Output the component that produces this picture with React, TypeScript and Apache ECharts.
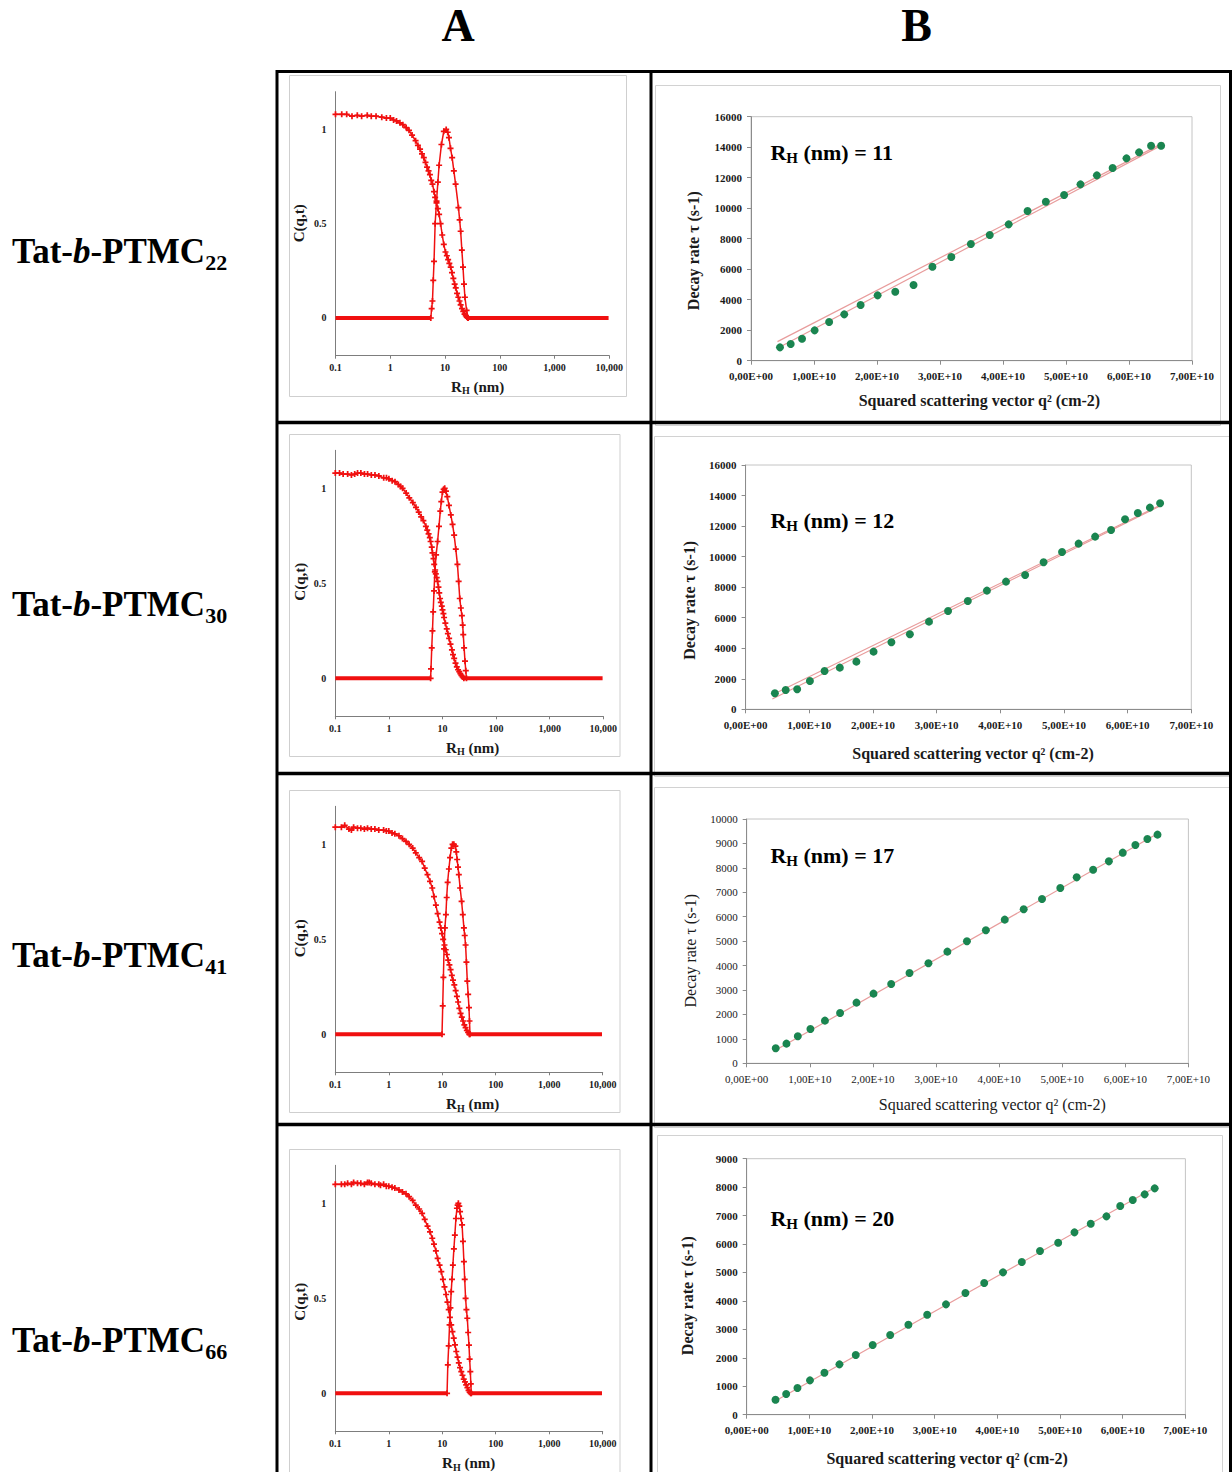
import React, { useEffect, useRef } from 'react';
import * as echarts from 'echarts';

const SERIF = "'Liberation Serif', 'Times New Roman', serif";

// ---------- Texts ----------
const columnHeaders = ['A', 'B'];
const sampleSubscripts = ['22', '30', '41', '66'];
const rhValues = [11, 12, 17, 20];

// ---------- Panel A ticks ----------
const logTickLabels = ['0.1', '1', '10', '100', '1,000', '10,000'];
const corrTickValues = [0, 0.5, 1];
const corrTickLabels = ['0', '0.5', '1'];

// ---------- Panel A data (x = RH nm, y = C(q,t)) ----------
const a1Decay = [[0.1,1.08],[0.13,1.08],[0.16,1.08],[0.2,1.07],[0.25,1.075],[0.3,1.07],[0.38,1.075],[0.45,1.07],[0.55,1.07],[0.7,1.065],[0.85,1.06],[1,1.06],[1.15,1.05],[1.3,1.045],[1.5,1.035],[1.7,1.025],[1.95,1.01],[2.2,0.995],[2.5,0.97],[2.9,0.94],[3.2,0.915],[3.5,0.895],[3.8,0.87],[4.1,0.85],[4.4,0.825],[4.7,0.8],[5,0.78],[5.3,0.76],[5.6,0.73],[5.9,0.71],[6.3,0.67],[6.6,0.64],[7,0.61],[7.4,0.58],[7.8,0.55],[8.3,0.5],[8.9,0.44],[9.5,0.39],[10.2,0.35],[10.8,0.33],[11.4,0.31],[12,0.29],[12.7,0.27],[13.4,0.24],[14.2,0.21],[15,0.18],[15.7,0.16],[16.6,0.13],[17.5,0.11],[18.4,0.09],[19.3,0.07],[20.4,0.05],[21.5,0.035],[22.7,0.02],[23.9,0.012],[25,0.005],[26,0]];
const a1Peak = [[5.5,0],[5.7,0.05],[5.9,0.09],[6.1,0.2],[6.3,0.3],[6.6,0.5],[7,0.62],[7.4,0.72],[7.8,0.81],[8.6,0.92],[9.5,0.99],[10.5,1],[11.2,0.985],[11.8,0.956],[12.6,0.9],[13.5,0.85],[14.5,0.78],[15.6,0.71],[17.6,0.585],[18.5,0.52],[19.3,0.46],[20.3,0.36],[21.3,0.27],[22.2,0.18],[23.1,0.11],[24.8,0.04],[26.5,0]];
const a1BaseLeft = [[0.1,0],[0.2,0],[0.5,0],[1,0],[2,0],[5.5,0]];
const a1BaseRight = [[26,0],[100,0],[1000,0],[9700,0]];

const a2Decay = [[0.1,1.08],[0.12,1.08],[0.14,1.075],[0.17,1.075],[0.2,1.07],[0.23,1.075],[0.26,1.08],[0.3,1.08],[0.35,1.075],[0.4,1.075],[0.47,1.07],[0.55,1.07],[0.65,1.065],[0.8,1.055],[0.9,1.055],[1,1.05],[1.15,1.04],[1.3,1.035],[1.5,1.02],[1.65,1.01],[1.8,1.0],[2.1,0.975],[2.4,0.95],[2.8,0.925],[3.2,0.9],[3.6,0.875],[4,0.85],[4.4,0.83],[4.9,0.8],[5.2,0.78],[5.5,0.76],[5.8,0.74],[6,0.72],[6.3,0.69],[6.5,0.66],[6.8,0.63],[7,0.6],[7.3,0.57],[7.5,0.55],[7.8,0.53],[8.1,0.51],[8.4,0.48],[8.7,0.45],[9,0.42],[9.3,0.4],[9.7,0.38],[10,0.36],[10.4,0.34],[10.7,0.32],[11.3,0.29],[12,0.26],[12.6,0.235],[13.3,0.21],[14.1,0.18],[15,0.15],[15.7,0.125],[16.5,0.105],[17.5,0.08],[18.5,0.06],[19.5,0.045],[20.5,0.035],[21.5,0.025],[22.5,0.015],[23.7,0.007],[25,0]];
const a2Peak = [[6,0],[6.1,0.05],[6.3,0.16],[6.5,0.25],[6.7,0.35],[6.95,0.46],[7.2,0.56],[7.6,0.65],[8.1,0.72],[8.6,0.8],[9.1,0.88],[9.5,0.93],[10,0.98],[10.5,0.995],[11,1],[11.6,0.985],[12.3,0.956],[13.2,0.91],[14.3,0.86],[15.4,0.81],[16.5,0.754],[17.7,0.68],[19,0.6],[20,0.51],[21,0.42],[22,0.37],[23,0.33],[23.8,0.28],[24.4,0.23],[25.3,0.16],[26.3,0.09],[27.2,0.04],[28,0]];
const a2BaseLeft = [[0.1,0],[0.2,0],[0.5,0],[1,0],[2,0],[6,0]];
const a2BaseRight = [[25,0],[100,0],[1000,0],[9700,0]];

const a3Decay = [[0.1,1.09],[0.13,1.09],[0.15,1.1],[0.18,1.08],[0.2,1.075],[0.22,1.09],[0.26,1.085],[0.3,1.085],[0.35,1.08],[0.4,1.085],[0.47,1.08],[0.55,1.08],[0.65,1.075],[0.8,1.075],[0.9,1.07],[1,1.07],[1.15,1.06],[1.3,1.055],[1.55,1.045],[1.8,1.03],[2.1,1.015],[2.4,1.0],[2.8,0.98],[3.2,0.955],[3.7,0.93],[4.2,0.91],[4.7,0.875],[5.3,0.84],[5.9,0.805],[6.5,0.77],[7,0.725],[7.6,0.68],[8.2,0.635],[8.9,0.59],[9.4,0.56],[9.9,0.53],[10.4,0.5],[11,0.47],[11.6,0.445],[12.2,0.42],[12.9,0.39],[13.6,0.365],[14.3,0.34],[15.1,0.31],[15.9,0.285],[16.8,0.26],[17.8,0.23],[18.8,0.2],[19.8,0.17],[20.9,0.137],[22,0.11],[23.2,0.09],[24.5,0.07],[25.9,0.05],[27.3,0.035],[28.8,0.02],[30.4,0.01],[32,0]];
const a3Peak = [[9.9,0],[10.2,0.15],[10.5,0.3],[10.8,0.45],[11.2,0.56],[11.7,0.63],[12.1,0.72],[12.6,0.8],[13.3,0.87],[14,0.93],[14.8,0.98],[15.6,1],[16.5,1],[17.6,0.99],[18.3,0.96],[19,0.92],[19.7,0.88],[20.4,0.84],[21.6,0.77],[23,0.7],[24.2,0.63],[25.4,0.56],[26.3,0.52],[27.3,0.47],[28.3,0.38],[29.4,0.28],[30.5,0.21],[31.6,0.14],[32.3,0.07],[33,0]];
const a3BaseLeft = [[0.1,0],[0.2,0],[0.5,0],[1,0],[3,0],[9.9,0]];
const a3BaseRight = [[32,0],[100,0],[1000,0],[9700,0]];

const a4Decay = [[0.1,1.1],[0.13,1.1],[0.15,1.1],[0.17,1.105],[0.2,1.1],[0.22,1.11],[0.26,1.105],[0.3,1.105],[0.35,1.1],[0.4,1.11],[0.43,1.11],[0.47,1.105],[0.55,1.1],[0.65,1.1],[0.7,1.095],[0.8,1.1],[0.9,1.09],[1,1.09],[1.15,1.085],[1.3,1.08],[1.55,1.07],[1.8,1.06],[2.1,1.05],[2.4,1.035],[2.8,1.015],[3.2,0.99],[3.7,0.97],[4.2,0.947],[4.7,0.915],[5.3,0.88],[5.9,0.85],[6.5,0.816],[7,0.785],[7.6,0.75],[8.2,0.71],[8.9,0.675],[9.6,0.64],[10.3,0.6],[11,0.56],[11.8,0.52],[12.5,0.48],[13.2,0.44],[13.9,0.4],[14.7,0.36],[15.5,0.325],[16.4,0.29],[17.3,0.255],[18.3,0.22],[19.3,0.19],[20.4,0.16],[21.5,0.135],[22.7,0.114],[23.9,0.095],[25.2,0.075],[26.6,0.06],[28,0.044],[29.5,0.03],[31,0.015],[32.5,0.006],[34,0]];
const a4Peak = [[12.3,0],[12.7,0.15],[13.2,0.25],[13.7,0.36],[14.2,0.45],[14.7,0.535],[15.2,0.6],[15.8,0.675],[16.5,0.76],[17.2,0.833],[18,0.92],[18.8,0.974],[19.4,0.99],[20,1],[20.8,0.985],[21.5,0.956],[22.5,0.92],[23.5,0.886],[24.4,0.8],[25.4,0.693],[26.3,0.6],[27.3,0.5],[28.3,0.44],[29.4,0.395],[30.5,0.32],[31.6,0.254],[32.5,0.18],[33.5,0.114],[34.2,0.05],[35,0]];
const a4BaseLeft = [[0.1,0],[0.2,0],[0.5,0],[1,0],[3,0],[12.3,0]];
const a4BaseRight = [[34,0],[100,0],[1000,0],[9700,0]];

// ---------- Panel B data (x = q² in 1E+10 cm-2, y = decay rate s-1) ----------
const qSquared = [0.46,0.63,0.81,1.01,1.24,1.48,1.74,2.01,2.29,2.58,2.88,3.18,3.49,3.79,4.09,4.39,4.68,4.97,5.23,5.49,5.74,5.96,6.16,6.35,6.51];
const b1Rate = [874,1093,1443,1989,2536,3038,3650,4284,4525,4962,6164,6798,7650,8240,8940,9814,10426,10863,11563,12153,12634,13268,13661,14098,14098];
const b2Rate = [1048,1266,1310,1856,2511,2729,3122,3777,4389,4913,5742,6441,7096,7773,8362,8799,9629,10306,10852,11310,11747,12445,12860,13210,13493];
const b3Rate = [614,805,1105,1405,1746,2060,2483,2851,3247,3697,4093,4570,4993,5443,5880,6303,6726,7176,7612,7926,8267,8622,8936,9181,9359];
const b4Rate = [527,727,938,1207,1477,1770,2098,2449,2801,3164,3516,3879,4277,4629,5004,5367,5754,6047,6410,6715,6973,7336,7547,7746,7957];

// Linear fit lines drawn in each B panel
const b1Fits = [[[0.42, 1250], [6.55, 14300]], [[0.42, 820], [6.55, 14200]]];
const b2Fits = [[[0.42, 950], [6.55, 13450]], [[0.42, 680], [6.55, 13400]]];
const b3Fits = [[[0.42, 480], [6.55, 9460]]];
const b4Fits = [[[0.42, 440], [6.55, 8030]]];

const bYMax = [16000, 16000, 10000, 9000];
const bYStep = [2000, 2000, 1000, 1000];

const aDecays = [a1Decay, a2Decay, a3Decay, a4Decay];
const aPeaks = [a1Peak, a2Peak, a3Peak, a4Peak];
const aBaseLefts = [a1BaseLeft, a2BaseLeft, a3BaseLeft, a4BaseLeft];
const aBaseRights = [a1BaseRight, a2BaseRight, a3BaseRight, a4BaseRight];
const bRates = [b1Rate, b2Rate, b3Rate, b4Rate];
const bFits = [b1Fits, b2Fits, b3Fits, b4Fits];

// ---------- Layout (pixels) ----------
const aLayout = [
  { grid: [335.5, 91.7, 273.8, 264], frame: [289.5, 75.5, 337, 321], xName: [477.7, 386.7], yName: [299.3, 223.3] },
  { grid: [335.3, 450.3, 268, 266], frame: [289.5, 434.5, 330.5, 322], xName: [472.7, 747.7], yName: [300.3, 581.7] },
  { grid: [335.3, 806.3, 267.4, 266], frame: [289.5, 790.5, 330.5, 322], xName: [472.7, 1104.3], yName: [300, 938.3] },
  { grid: [335.3, 1165.3, 267.4, 266], frame: [289.5, 1149.5, 330.5, 330], xName: [468.7, 1463.3], yName: [300, 1301.7] },
];
const bLayout = [
  { grid: [751, 116.7, 441, 244], frame: [655.5, 85.5, 565, 340], xName: [979.4, 400], yName: [693.4, 250.7], note: [770.4, 152], bold: true },
  { grid: [745.6, 465, 445.7, 244.3], frame: [654.5, 436.5, 580, 340], xName: [973, 753.3], yName: [689, 600.3], note: [770.4, 520], bold: true },
  { grid: [746.7, 819, 441.7, 244.3], frame: [654.5, 787.5, 580, 340], xName: [992.3, 1104.3], yName: [690.8, 950.7], note: [770.4, 855], bold: false },
  { grid: [746.7, 1158.7, 438.7, 256], frame: [657.5, 1135.5, 565, 340], xName: [947.2, 1458.3], yName: [687.9, 1295.7], note: [770.4, 1218], bold: true },
];
const rowLabelY = [251.5, 604, 955, 1340];

const PLUS = 'path://M2.5,0H4.5V2.5H7V4.5H4.5V7H2.5V4.5H0V2.5H2.5Z';
const RED = '#f01010';
const GREEN = '#1a8550';
const FIT = '#e89c9c';
const AXIS_GRAY = '#7d7d7d';

function buildOption() {
  const grid: any[] = [];
  const xAxis: any[] = [];
  const yAxis: any[] = [];
  const series: any[] = [];
  const graphic: any[] = [];

  // Panel A charts
  aLayout.forEach((L, i) => {
    const gi = grid.length;
    grid.push({ left: L.grid[0], top: L.grid[1], width: L.grid[2], height: L.grid[3], containLabel: false, outerBoundsMode: 'none' });
    xAxis.push({
      type: 'log', gridIndex: gi, logBase: 10, min: 0.1, max: 10000, splitNumber: 5,
      axisLine: { onZero: false, lineStyle: { color: AXIS_GRAY, width: 1 } },
      axisTick: { show: true, length: 3, lineStyle: { color: AXIS_GRAY } },
      minorTick: { show: false }, splitLine: { show: false },
      axisLabel: {
        margin: 7, fontFamily: SERIF, fontWeight: 'bold', fontSize: 10, color: '#1a1a1a',
        formatter: (v: number) => logTickLabels[Math.round(Math.log10(v)) + 1] ?? '',
      },
    });
    yAxis.push({
      type: 'value', gridIndex: gi, min: -0.2, max: 1.2, interval: 0.1,
      axisLine: { show: true, onZero: false, lineStyle: { color: AXIS_GRAY, width: 1 } },
      axisTick: { show: false }, splitLine: { show: false },
      axisLabel: {
        margin: 9, fontFamily: SERIF, fontWeight: 'bold', fontSize: 10, color: '#1a1a1a',
        formatter: (v: number) => {
          const k = corrTickValues.findIndex((t) => Math.abs(t - v) < 1e-6);
          return k >= 0 ? corrTickLabels[k] : '';
        },
      },
    });
    [aBaseLefts[i], aBaseRights[i]].forEach((d) => {
      series.push({
        type: 'line', xAxisIndex: gi, yAxisIndex: gi, data: d, symbol: 'none',
        lineStyle: { color: RED, width: 4 }, silent: true, z: 3,
      });
    });
    [aDecays[i], aPeaks[i]].forEach((d) => {
      series.push({
        type: 'line', xAxisIndex: gi, yAxisIndex: gi, data: d,
        symbol: PLUS, symbolSize: 6, showSymbol: true,
        lineStyle: { color: RED, width: 1.5 }, itemStyle: { color: RED },
        silent: true, z: 3,
      });
    });
    graphic.push({
      type: 'rect', shape: { x: L.frame[0], y: L.frame[1], width: L.frame[2], height: L.frame[3] },
      style: { fill: 'none', stroke: '#cfcfcf', lineWidth: 1 }, silent: true,
    });
    graphic.push({
      type: 'text', x: L.xName[0], y: L.xName[1],
      style: {
        text: '{r|R}{s|H}{r| (nm)}', align: 'center', verticalAlign: 'middle',
        rich: {
          r: { fontFamily: SERIF, fontWeight: 'bold', fontSize: 15, lineHeight: 18, fill: '#1a1a1a' },
          s: { fontFamily: SERIF, fontWeight: 'bold', fontSize: 10, lineHeight: 10, verticalAlign: 'bottom', fill: '#1a1a1a' },
        },
      },
    });
    graphic.push({
      type: 'text', x: L.yName[0], y: L.yName[1], rotation: Math.PI / 2,
      style: {
        text: 'C(q,t)', align: 'center', verticalAlign: 'middle',
        fontFamily: SERIF, fontWeight: 'bold', fontSize: 15, fill: '#1a1a1a',
      },
    });
  });

  // Panel B charts
  bLayout.forEach((L, i) => {
    const gi = grid.length;
    const fw = L.bold ? 'bold' : 'normal';
    grid.push({
      left: L.grid[0], top: L.grid[1], width: L.grid[2], height: L.grid[3],
      show: true, borderColor: '#c4c4c4', borderWidth: 1, backgroundColor: 'transparent',
      containLabel: false, outerBoundsMode: 'none',
    });
    xAxis.push({
      type: 'value', gridIndex: gi, min: 0, max: 7, interval: 1,
      axisLine: { onZero: false, lineStyle: { color: '#8c8c8c', width: 1 } },
      axisTick: { show: true, length: 4, lineStyle: { color: '#8c8c8c' } },
      splitLine: { show: false },
      axisLabel: {
        margin: 10, fontFamily: SERIF, fontWeight: fw, fontSize: 11, color: '#1a1a1a',
        formatter: (v: number) => (v === 0 ? '0,00E+00' : v.toFixed(2).replace('.', ',') + 'E+10'),
      },
    });
    yAxis.push({
      type: 'value', gridIndex: gi, min: 0, max: bYMax[i], interval: bYStep[i],
      axisLine: { show: true, onZero: false, lineStyle: { color: '#8c8c8c', width: 1 } },
      axisTick: { show: true, length: 4, lineStyle: { color: '#8c8c8c' } },
      splitLine: { show: false },
      axisLabel: {
        margin: 9, fontFamily: SERIF, fontWeight: fw, fontSize: 11, color: '#1a1a1a',
        formatter: (v: number) => String(Math.round(v)),
      },
    });
    bFits[i].forEach((f) => {
      series.push({
        type: 'line', xAxisIndex: gi, yAxisIndex: gi, data: f, symbol: 'none',
        lineStyle: { color: FIT, width: 1.2 }, silent: true, z: 2,
      });
    });
    series.push({
      type: 'scatter', xAxisIndex: gi, yAxisIndex: gi,
      data: qSquared.map((q, k) => [q, bRates[i][k]]),
      symbol: 'circle', symbolSize: 8, itemStyle: { color: GREEN, opacity: 1 }, silent: true, z: 3,
    });
    graphic.push({
      type: 'rect', shape: { x: L.frame[0], y: L.frame[1], width: L.frame[2], height: L.frame[3] },
      style: { fill: 'none', stroke: '#d2d2d2', lineWidth: 1 }, silent: true,
    });
    graphic.push({
      type: 'text', x: L.note[0], y: L.note[1],
      style: {
        text: `{r|R}{s|H}{r| (nm) = ${rhValues[i]}}`, align: 'left', verticalAlign: 'middle',
        rich: {
          r: { fontFamily: SERIF, fontWeight: 'bold', fontSize: 22, lineHeight: 26, fill: '#000' },
          s: { fontFamily: SERIF, fontWeight: 'bold', fontSize: 15, lineHeight: 15, verticalAlign: 'bottom', fill: '#000' },
        },
      },
    });
    graphic.push({
      type: 'text', x: L.xName[0], y: L.xName[1],
      style: {
        text: 'Squared scattering vector q² (cm-2)', align: 'center', verticalAlign: 'middle',
        fontFamily: SERIF, fontWeight: fw, fontSize: 16, fill: '#1a1a1a',
      },
    });
    graphic.push({
      type: 'text', x: L.yName[0], y: L.yName[1], rotation: Math.PI / 2,
      style: {
        text: 'Decay rate τ (s-1)', align: 'center', verticalAlign: 'middle',
        fontFamily: SERIF, fontWeight: fw, fontSize: 16, fill: '#1a1a1a',
      },
    });
  });

  // Table lines
  const lines = [
    [276, 71.5, 1232, 71.5, 3],
    [276, 422.5, 1232, 422.5, 3.5],
    [276, 773.5, 1232, 773.5, 3.5],
    [276, 1124.5, 1232, 1124.5, 3.5],
    [277, 70, 277, 1472, 3],
    [651, 70, 651, 1472, 3],
    [1230.5, 70, 1230.5, 1472, 3],
  ];
  lines.forEach(([x1, y1, x2, y2, w]) => {
    graphic.push({ type: 'line', shape: { x1, y1, x2, y2 }, style: { stroke: '#000', lineWidth: w }, silent: true, z: 10 });
  });

  // Column headers
  const headerX = [458, 916.5];
  columnHeaders.forEach((h, k) => {
    graphic.push({
      type: 'text', x: headerX[k], y: 25.5,
      style: { text: h, align: 'center', verticalAlign: 'middle', fontFamily: SERIF, fontWeight: 'bold', fontSize: 46, fill: '#000' },
    });
  });

  // Row labels
  sampleSubscripts.forEach((sub, k) => {
    graphic.push({
      type: 'text', x: 12, y: rowLabelY[k],
      style: {
        text: `{m|Tat-}{i|b}{m|-PTMC}{s|${sub}}`, align: 'left', verticalAlign: 'middle',
        rich: {
          m: { fontFamily: SERIF, fontWeight: 'bold', fontSize: 35, lineHeight: 44, fill: '#000' },
          i: { fontFamily: SERIF, fontWeight: 'bold', fontStyle: 'italic', fontSize: 35, lineHeight: 44, fill: '#000' },
          s: { fontFamily: SERIF, fontWeight: 'bold', fontSize: 22, lineHeight: 22, verticalAlign: 'bottom', fill: '#000' },
        },
      },
    });
  });

  return { animation: false, backgroundColor: '#fff', grid, xAxis, yAxis, series, graphic };
}

export default function App() {
  const ref = useRef<HTMLDivElement>(null);
  useEffect(() => {
    if (!ref.current) return;
    const chart = echarts.init(ref.current, undefined, { renderer: 'svg' });
    chart.setOption(buildOption() as any);
    return () => chart.dispose();
  }, []);
  return (
    <div
      ref={ref}
      style={{ position: 'absolute', left: 0, top: 0, width: 1232, height: 1472, background: '#fff' }}
    />
  );
}
